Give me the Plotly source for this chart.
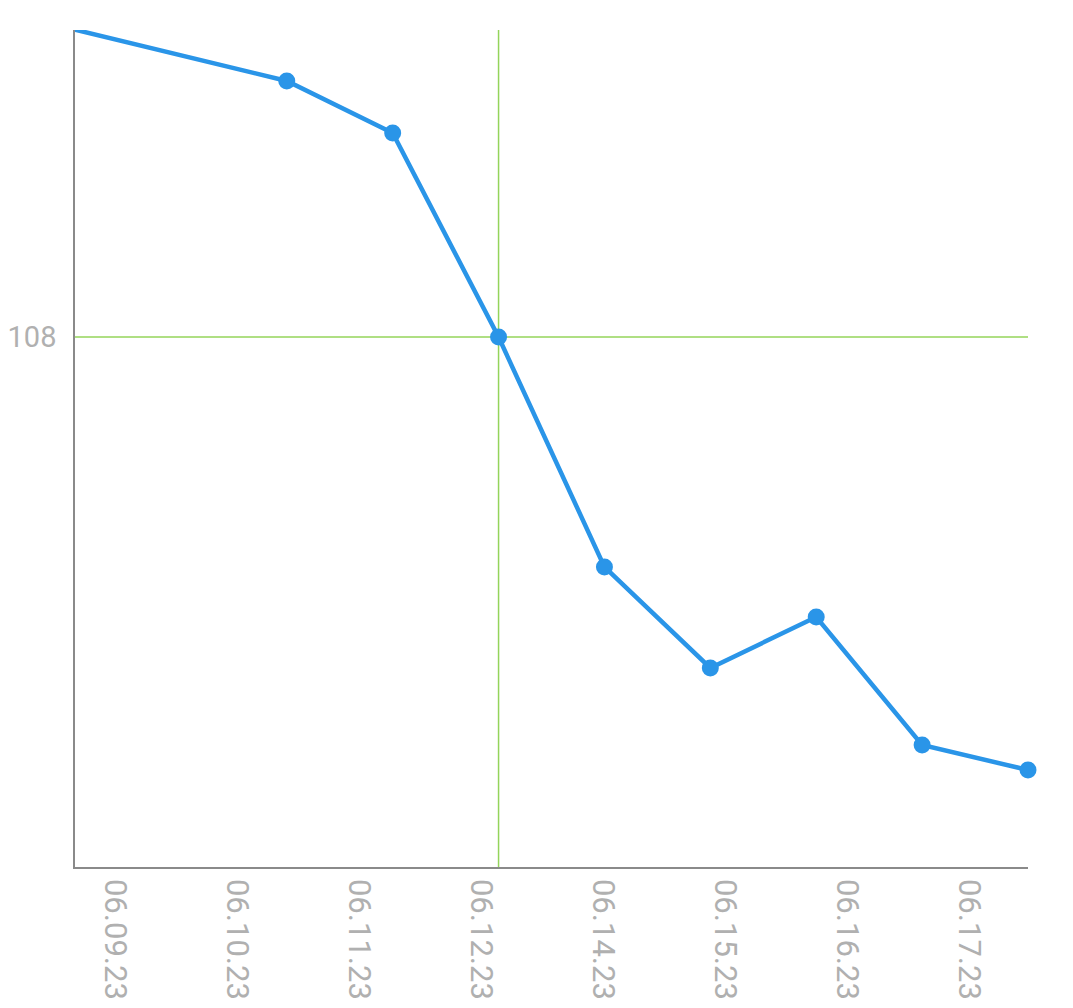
import plotly.graph_objects as go

# data (x = day index in the visible window, first point lies just left of the window)
x_vals = [-1, 2, 3, 4, 5, 6, 7, 8, 9]
y_vals = [111.33, 110.56, 110.04, 108.00, 105.70, 104.69, 105.20, 103.92, 103.67]

# x tick labels and their positions
x_tick_pos = [0.378, 1.530, 2.682, 3.834, 4.985, 6.137, 7.289, 8.441]
x_tick_text = ["06.09.23", "06.10.23", "06.11.23", "06.12.23",
               "06.14.23", "06.15.23", "06.16.23", "06.17.23"]
y_tick_vals = [108]
y_tick_text = ["108"]

# highlighted point
hl_x = 4
hl_y = 108.00

x_range = [0, 9]
y_range = [102.70, 111.07]

line_color = "#2a95e8"
grid_green = "#94d45a"
axis_gray = "#8a8a8a"
label_gray = "#b0b0b0"

fig = go.Figure()
fig.add_trace(go.Scatter(
    x=x_vals, y=y_vals, mode="lines+markers",
    line=dict(color=line_color, width=4.5),
    marker=dict(color=line_color, size=17),
    cliponaxis=False,
    showlegend=False,
))

fig.add_shape(type="line", xref="x", yref="paper", x0=hl_x, x1=hl_x, y0=0, y1=1,
              line=dict(color=grid_green, width=1.5), layer="below")
fig.add_shape(type="line", xref="paper", yref="y", x0=0, x1=1, y0=hl_y, y1=hl_y,
              line=dict(color=grid_green, width=1.5), layer="below")

fig.update_layout(
    width=1065, height=1000,
    margin=dict(l=67, r=45, t=22, b=141),
    paper_bgcolor="white", plot_bgcolor="white",
    font=dict(family="Roboto", size=29, color=label_gray),
    xaxis=dict(
        range=x_range, showgrid=False, zeroline=False, automargin=False,
        showline=True, linecolor=axis_gray, linewidth=1.5,
        tickmode="array", tickvals=x_tick_pos, ticktext=x_tick_text,
        tickangle=90, ticks="", ticklabelstandoff=4,
        tickfont=dict(family="Roboto", size=31, color=label_gray),
    ),
    yaxis=dict(
        range=y_range, showgrid=False, zeroline=False, automargin=False,
        showline=True, linecolor=axis_gray, linewidth=1.5,
        tickmode="array", tickvals=y_tick_vals, ticktext=y_tick_text,
        ticks="", ticklabelstandoff=11,
        tickfont=dict(family="Roboto", size=29, color=label_gray),
    ),
)

fig.write_html("out.html")
